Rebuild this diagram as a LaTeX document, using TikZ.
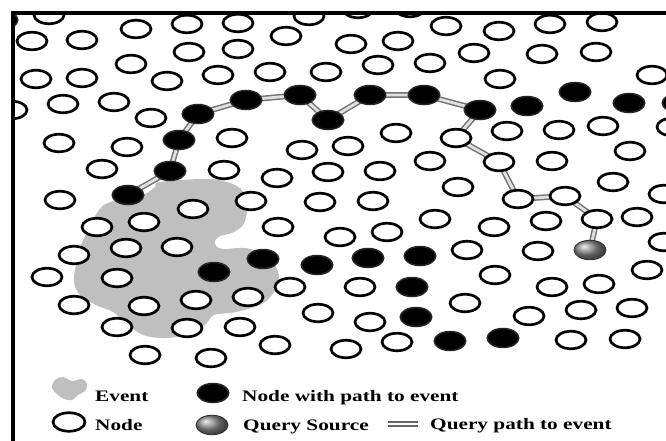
\documentclass[tikz,border=0pt]{standalone}
\usepackage{fontspec}
\setmainfont{Liberation Serif}
\usepackage{graphicx}
\usetikzlibrary{shapes.geometric}
\pgfdeclarelayer{bg}
\pgfsetlayers{bg,main}
\tikzset{
 wn/.style={ellipse, draw=black, line width=2.7pt, fill=white, minimum width=30pt, minimum height=17.5pt, inner sep=0pt},
 bn/.style={ellipse, draw=black!85, line width=1.5pt, fill=black, minimum width=31.5pt, minimum height=19pt, inner sep=0pt},
 qn/.style={ellipse, draw=black!80, line width=0.9pt, shading=ball, ball color=black!45, minimum width=32pt, minimum height=19.5pt, inner sep=0pt},
 qpath/.style={draw=black!55, line width=1.5pt, double=black!12, double distance=2.8pt},
 legtext/.style={anchor=base west, inner sep=0pt, font=\fontsize{16}{19}\selectfont\bfseries},
 eventfill/.style={fill=black!25},
 framestyle/.style={line width=4pt, draw=black, line join=miter}
}
\begin{document}
\begin{tikzpicture}[x=1pt,y=-1pt]
\useasboundingbox (0,0) rectangle (666,441);
\begin{scope}
\clip (12,13) rectangle (666,441);
% white nodes
\foreach \x/\y [count=\i] in {
49/15, 136/29, 187/24, 238/23, 309/16, 358/9, 410/8, 446/26, 499/31, 550/24, 602/22,
32/41, 82/40, 189/52, 286/36, 351/44, 398/41, 238/49, 474/53, 542/54, 596/52,
131/64, 378/65, 430/63, 36/79, 82/78, 167/81, 218/75, 270/72, 326/72, 500/79, 652/75,
12/110, 63/104, 114/102, 151/118, 59/143, 127/147, 232/138, 396/133, 302/150, 348/146,
507/131, 559/130, 603/126, 672/127, 630/151,
102/169, 224/170, 277/178, 328/172, 380/171, 430/161, 552/161,
60/200, 193/209, 251/201, 320/202, 373/201, 458/187, 613/182, 664/194,
97/227, 144/222, 278/227, 340/237, 387/232, 435/219, 494/227, 546/221, 637/217,
126/248, 177/247, 74/255, 47/277, 117/278, 467/250, 538/251, 664/242, 495/275, 647/270,
290/287, 360/287, 552/287, 599/284,
74/305, 144/306, 196/300, 248/297, 465/303, 318/313, 370/322, 529/316, 581/310, 632/308,
117/327, 187/328, 240/327, 275/345, 346/349, 397/342, 571/340, 625/339, 145/355, 211/358}
  \node[wn] (w\i) at (\x,\y) {};
% black nodes not on the path
\foreach \x/\y [count=\i] in {
2/20, 527/106, 575/92, 629/103, 678/103, 214/272, 263/259, 317/265, 368/258,
420/256, 412/287, 416/317, 450/341, 503/338}
  \node[bn] (b\i) at (\x,\y) {};
% path nodes
\node[qn] (Q) at (590,250) {};
\node[wn] (p1) at (597,219) {};
\node[wn] (p2) at (565,196) {};
\node[wn] (p3) at (518,199) {};
\node[wn] (p4) at (499,162) {};
\node[wn] (p5) at (456,138) {};
\node[bn] (k1) at (480,110) {};
\node[bn] (k2) at (424,95) {};
\node[bn] (k3) at (370,95) {};
\node[bn] (k4) at (328,120) {};
\node[bn] (k5) at (300,95) {};
\node[bn] (k6) at (246,100) {};
\node[bn] (k7) at (198,114) {};
\node[bn] (k8) at (179,140) {};
\node[bn] (k9) at (170,171) {};
\node[bn] (k10) at (128,195) {};
\begin{pgfonlayer}{bg}
\fill[eventfill] plot[smooth cycle, tension=0.55] coordinates {
(160,182) (210,179) (237,186) (246,198) (247,212) (243,225) (232,233) (220,236)
(215,241) (217,247) (225,249) (245,248) (264,254) (275,265) (279,278) (274,292)
(262,304) (236,312) (214,315) (206,324) (193,333) (167,338) (143,335) (126,323)
(113,312) (96,305) (80,295) (74,282) (76,265) (80,248) (87,232) (95,216)
(104,205) (120,199) (143,195) (155,187)};
\draw[qpath] (Q.center) -- (p1.center) -- (p2.center) -- (p3.center) -- (p4.center)
  -- (p5.center) -- (k1.center) -- (k2.center) -- (k3.center) -- (k4.center)
  -- (k5.center) -- (k6.center) -- (k7.center) -- (k8.center) -- (k9.center)
  -- (k10.center);
\end{pgfonlayer}
\end{scope}
% frame
\draw[framestyle] (12.5,441) -- (12.5,13.5) -- (666,13.5);
% legend
\fill[eventfill] plot[smooth cycle, tension=0.6] coordinates {
(52,388) (55,380) (63,377) (72,381) (82,379) (87,384) (85,391) (78,395) (72,400) (64,399) (57,394)};
\node[legtext] (tE) at (95,401) {\scalebox{1.33}[1]{Event}};
\node[bn] (lb) at (213,393) {};
\node[legtext] (tB) at (242,401) {\scalebox{1.33}[1]{Node with path to event}};
\node[wn, minimum width=32pt, minimum height=18.5pt] (ln) at (69,422) {};
\node[legtext] (tN) at (95,430) {\scalebox{1.33}[1]{Node}};
\node[qn] (lq) at (212,425) {};
\node[legtext] (tQ) at (243,430) {\scalebox{1.33}[1]{Query Source}};
\coordinate (l1) at (388,424);
\coordinate (l2) at (418,424);
\draw[draw=black!60, line width=1.3pt, double=white, double distance=2.6pt] (l1) -- (l2);
\node[legtext] (tP) at (430,429) {\scalebox{1.33}[1]{Query path to event}};
\end{tikzpicture}
\end{document}
